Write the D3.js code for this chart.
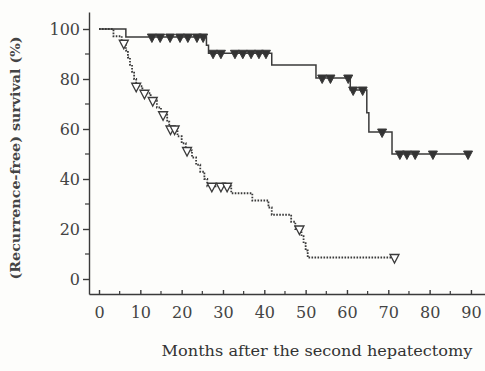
<!DOCTYPE html>
<html><head><meta charset="utf-8">
<script src="https://cdn.jsdelivr.net/npm/d3@7"></script>
<style>html,body{margin:0;padding:0;background:#fdfdfb;}svg{display:block;}</style>
</head><body>
<svg id="c" width="485" height="371"></svg>
<script>
// Group 1 (solid line, filled censor marks): step function [month, survival %]
const solidSteps = [[0,100],[6.5,96.8],[26.0,93.5],[26.5,90.3],[41.8,85.6],[52.5,80.4],[60.8,75.6],[64.8,66.5],[65.3,58.8],[70.9,50.0]];
const solidEnd = 89.8;
const solidCensor = [12.8,14.8,17.2,19.6,21.5,23.7,25.2,27.6,29.5,32.9,34.8,36.8,38.7,40.4,54.0,56.0,60.3,61.5,63.8,68.5,72.8,74.5,76.5,80.8,89.3];
// Group 2 (dotted line, open censor marks)
const dottedSteps = [[0,100],[3.5,97.1],[5.5,94.3],[6.5,91.4],[7.0,88.6],[7.5,85.7],[8.0,82.9],[8.5,80.0],[9.0,77.1],[10.5,74.3],[12.5,71.4],[14.0,68.6],[15.0,65.7],[16.5,62.9],[17.0,60.0],[19.0,57.1],[20.0,54.3],[21.0,51.4],[22.5,48.6],[23.5,45.7],[24.5,42.9],[25.5,40.0],[26.2,37.1],[32.0,34.3],[37.1,31.4],[41.0,28.6],[41.8,25.7],[46.5,22.9],[47.5,20.0],[49.0,17.1],[49.5,14.3],[50.0,11.4],[50.5,8.6]];
const dottedEnd = 71.5;
const dottedCensor = [6.0,9.0,11.0,13.0,15.5,17.3,18.3,21.3,27.3,29.5,31.0,48.5,71.5];
const xTicks = [0,10,20,30,40,50,60,70,80,90];
const yTicks = [0,20,40,60,80,100];
const xLabel = "Months after the second hepatectomy";
const yLabel = "(Recurrence-free) survival (%)";

const svg = d3.select("#c");
const x = d3.scaleLinear().domain([-2.42, 93.4]).range([89, 485]);
const y = d3.scaleLinear().domain([-6, 106.8]).range([294, 12]);
const ink = "#3a3a3a";

// axes
const yAxis = d3.axisLeft(y).tickValues(yTicks).tickSize(6).tickSizeOuter(0).tickPadding(3);
const gy = svg.append("g").attr("transform","translate(89,0)").call(yAxis);
gy.selectAll("text").attr("font-family","DejaVu Serif").attr("font-size",16).attr("fill","#444");
gy.selectAll("line,path").attr("stroke",ink).attr("stroke-width",1.4);
gy.append("g").selectAll("line").data([10,30,50,70,90]).join("line")
  .attr("x1",-4).attr("x2",0).attr("y1",d=>y(d)).attr("y2",d=>y(d)).attr("stroke",ink).attr("stroke-width",1.2);

const xAxis = d3.axisBottom(x).tickValues(xTicks).tickSize(-4).tickSizeOuter(0).tickPadding(13);
const gx = svg.append("g").attr("transform","translate(0,294)").call(xAxis);
gx.selectAll("text").attr("font-family","DejaVu Serif").attr("font-size",16).attr("fill","#444");
gx.selectAll("line,path").attr("stroke",ink).attr("stroke-width",1.4);
gx.append("g").selectAll("line").data([5,15,25,35,45,55,65,75,85]).join("line")
  .attr("x1",d=>x(d)).attr("x2",d=>x(d)).attr("y1",-3).attr("y2",0).attr("stroke",ink).attr("stroke-width",1.2);

// survival step lines
function stepPts(steps, end){ const p = steps.map(s=>[s[0],s[1]]); p.push([end, steps[steps.length-1][1]]); return p; }
const line = d3.line().x(d=>x(d[0])).y(d=>y(d[1])).curve(d3.curveStepAfter);
svg.append("path").attr("d", line(stepPts(dottedSteps,dottedEnd))).attr("fill","none")
  .attr("stroke",ink).attr("stroke-width",1.8).attr("stroke-dasharray","1.6,1.4");
svg.append("path").attr("d", line(stepPts(solidSteps,solidEnd))).attr("fill","none")
  .attr("stroke",ink).attr("stroke-width",1.5);

function survAt(steps, t){ let v = steps[0][1]; for(const s of steps){ if(s[0]<=t) v=s[1]; } return v; }
const tri = "M-4.5,-4L4.5,-4L0,4.5Z";
svg.append("g").selectAll("path").data(dottedCensor).join("path")
  .attr("d",tri).attr("transform",d=>`translate(${x(d)},${y(survAt(dottedSteps,d))+1})`)
  .attr("fill","#fff").attr("stroke",ink).attr("stroke-width",1.3);
svg.append("g").selectAll("path").data(solidCensor).join("path")
  .attr("d",tri).attr("transform",d=>`translate(${x(d)},${y(survAt(solidSteps,d))+1})`)
  .attr("fill","#333").attr("stroke",ink).attr("stroke-width",1);

// labels
svg.append("text").attr("x",317).attr("y",356).attr("text-anchor","middle")
  .attr("font-family","DejaVu Serif").attr("font-size",14).attr("fill","#333")
  .attr("textLength",311).attr("lengthAdjust","spacingAndGlyphs").text(xLabel);
svg.append("text").attr("transform","translate(20,158) rotate(-90)").attr("text-anchor","middle")
  .attr("font-family","DejaVu Serif").attr("font-weight","bold").attr("font-size",12.5).attr("fill","#444")
  .attr("textLength",243).attr("lengthAdjust","spacingAndGlyphs").text(yLabel);
</script>
</body></html>
